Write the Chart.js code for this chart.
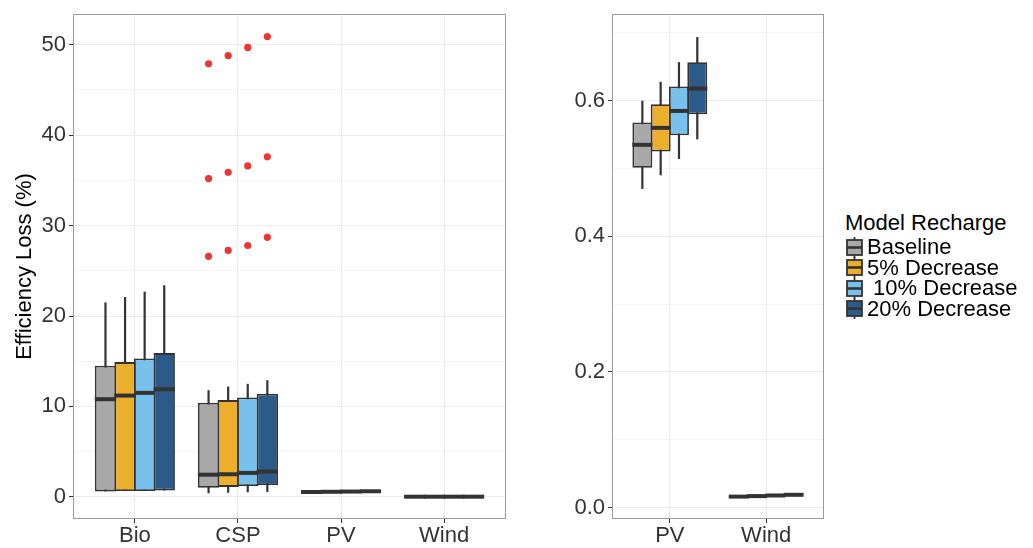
<!DOCTYPE html>
<html>
<head>
<meta charset="utf-8">
<script src="https://cdn.jsdelivr.net/npm/chart.js@4.4.1/dist/chart.umd.min.js"></script>
<style>
  body { margin: 0; background: #fff; }
  #wrap { position: relative; width: 1033px; height: 548px; font-family: 'Liberation Sans', Arial, sans-serif; }
  #left { position: absolute; left: 0; top: 0; }
  #right { position: absolute; left: 540px; top: 0; }
  #legend { position: absolute; left: 845px; top: 211px; font-size: 22px; color: #000; }
  #legend .title { line-height: 24px; }
  #legend ul { list-style: none; margin: 2px 0 0; padding: 0; }
  #legend li { display: flex; align-items: center; height: 20.5px; }
  #legend li span { white-space: pre; }
  #legend canvas { margin-right: 3px; }
</style>
</head>
<body>
<div id="wrap">
  <canvas id="left" width="512" height="548"></canvas>
  <canvas id="right" width="290" height="548"></canvas>
  <div id="legend"></div>
</div>
<script>
'use strict';

Chart.defaults.font.family = "'Liberation Sans', Arial, sans-serif";
Chart.defaults.font.size = 22;
Chart.defaults.color = '#333';

const categories = ['Bio', 'CSP', 'PV', 'Wind'];
const seriesNames = ['Baseline', '5% Decrease', ' 10% Decrease', '20% Decrease'];
const legendTitle = 'Model Recharge';

// rows = series, columns = categories (Bio, CSP, PV, Wind)
const whiskerLow = [
  [0.6, 0.4, 0.470, 0.0150],
  [0.65, 0.45, 0.490, 0.0158],
  [0.65, 0.5, 0.514, 0.0167],
  [0.7, 0.55, 0.543, 0.0176]
];
const lowerQuartile = [
  [0.6, 1.0, 0.501, 0.0155],
  [0.65, 1.1, 0.525, 0.0163],
  [0.65, 1.2, 0.549, 0.0172],
  [0.7, 1.3, 0.580, 0.0181]
];
const median = [
  [10.8, 2.45, 0.535, 0.0160],
  [11.2, 2.5, 0.560, 0.0168],
  [11.5, 2.65, 0.585, 0.0177],
  [11.9, 2.8, 0.618, 0.0187]
];
const upperQuartile = [
  [14.5, 10.4, 0.568, 0.0166],
  [14.9, 10.7, 0.595, 0.0174],
  [15.3, 11.0, 0.621, 0.0183],
  [15.9, 11.4, 0.657, 0.0193]
];
const whiskerHigh = [
  [21.5, 11.8, 0.600, 0.0172],
  [22.1, 12.2, 0.628, 0.0180],
  [22.7, 12.5, 0.657, 0.0190],
  [23.4, 12.9, 0.694, 0.0200]
];
// CSP outliers per series
const cspOutliers = [
  [26.6, 35.2, 47.9],
  [27.25, 35.9, 48.8],
  [27.8, 36.6, 49.7],
  [28.7, 37.6, 50.9]
];

const leftYTicks = [0, 10, 20, 30, 40, 50];
const rightYTicks = [0, 0.2, 0.4, 0.6];

const seriesColors = ['#A8A8A8', '#EBAF2D', '#77C1EC', '#2D5B89'];
const ink = '#333333';

// major ticks plus a minor gridline halfway between them
function gridValues(major, max) {
  const step = major[1] - major[0];
  const vals = [];
  major.forEach(v => {
    vals.push({ value: v, minor: false });
    const half = +(v + step / 2).toFixed(6);
    if (half <= max) vals.push({ value: half, minor: true });
  });
  return vals;
}

function boxDatasets(catIndexes) {
  return seriesNames.map((name, s) => ({
    label: name,
    backgroundColor: seriesColors[s],
    borderColor: ink,
    borderWidth: 1.8,
    borderSkipped: false,
    categoryPercentage: 0.76,
    barPercentage: 1.09, // neighbouring boxes share their outline, like ggplot
    data: catIndexes.map((c, k) => ({ x: k + 1, y: [lowerQuartile[s][c], upperQuartile[s][c]] })),
    whiskers: catIndexes.map(c => [whiskerLow[s][c], whiskerHigh[s][c]]),
    medians: catIndexes.map(c => median[s][c]),
    outliers: catIndexes.map(c => categories[c] === 'CSP' ? cspOutliers[s] : [])
  }));
}

// whiskers behind the boxes, medians + outliers on top, panel border last
const boxParts = {
  id: 'boxParts',
  beforeDatasetsDraw(chart) {
    const ctx = chart.ctx;
    const y = chart.scales.y;
    ctx.save();
    ctx.strokeStyle = ink;
    ctx.lineWidth = 2.2;
    chart.data.datasets.forEach((ds, i) => {
      chart.getDatasetMeta(i).data.forEach((bar, j) => {
        ctx.beginPath();
        ctx.moveTo(bar.x, y.getPixelForValue(ds.whiskers[j][0]));
        ctx.lineTo(bar.x, y.getPixelForValue(ds.whiskers[j][1]));
        ctx.stroke();
      });
    });
    ctx.restore();
  },
  afterDatasetsDraw(chart) {
    const ctx = chart.ctx;
    const y = chart.scales.y;
    ctx.save();
    chart.data.datasets.forEach((ds, i) => {
      chart.getDatasetMeta(i).data.forEach((bar, j) => {
        const ym = y.getPixelForValue(ds.medians[j]);
        ctx.strokeStyle = ink;
        ctx.lineWidth = 4;
        ctx.beginPath();
        ctx.moveTo(bar.x - bar.width / 2, ym);
        ctx.lineTo(bar.x + bar.width / 2, ym);
        ctx.stroke();
        ctx.fillStyle = '#EE3535';
        ds.outliers[j].forEach(v => {
          ctx.beginPath();
          ctx.arc(bar.x, y.getPixelForValue(v), 3.6, 0, Math.PI * 2);
          ctx.fill();
        });
      });
    });
    ctx.restore();
  },
  afterDraw(chart) {
    const { ctx, chartArea: a } = chart;
    ctx.save();
    ctx.strokeStyle = '#9a9a9a';
    ctx.lineWidth = 1;
    ctx.strokeRect(a.left + 0.5, a.top + 0.5, a.width - 1, a.height - 1);
    ctx.restore();
  }
};

function keyGlyph(color) {
  const c = document.createElement('canvas');
  c.width = 19;
  c.height = 21;
  const g = c.getContext('2d');
  g.strokeStyle = ink;
  g.lineWidth = 1.8;
  g.beginPath();
  g.moveTo(9.5, 0);
  g.lineTo(9.5, 21);
  g.stroke();
  g.fillStyle = color;
  g.fillRect(2, 3, 15, 15);
  g.strokeRect(2, 3, 15, 15);
  g.lineWidth = 2.6;
  g.beginPath();
  g.moveTo(2, 10.5);
  g.lineTo(17, 10.5);
  g.stroke();
  return c;
}

const htmlLegend = {
  id: 'htmlLegend',
  afterUpdate(chart) {
    const box = document.getElementById('legend');
    box.innerHTML = '';
    const title = document.createElement('div');
    title.className = 'title';
    title.textContent = legendTitle;
    box.appendChild(title);
    const list = document.createElement('ul');
    chart.options.plugins.legend.labels.generateLabels(chart).forEach(item => {
      const li = document.createElement('li');
      li.appendChild(keyGlyph(item.fillStyle));
      const text = document.createElement('span');
      text.textContent = item.text;
      li.appendChild(text);
      list.appendChild(li);
    });
    box.appendChild(list);
  }
};

function makeChart(canvasId, catIndexes, yRange, yMajor, yFormat, yAxisWidth, yTitle, extraPlugins) {
  const yGrid = gridValues(yMajor, yRange[1]);
  return new Chart(document.getElementById(canvasId), {
    type: 'bar',
    data: { datasets: boxDatasets(catIndexes) },
    plugins: [boxParts].concat(extraPlugins),
    options: {
      responsive: false,
      animation: false,
      layout: { padding: { top: 11, right: 6, left: 0, bottom: 0 } },
      plugins: { legend: { display: false }, tooltip: { enabled: false } },
      scales: {
        x: {
          type: 'linear',
          min: 0.4,
          max: catIndexes.length + 0.6,
          offset: false,
          grid: { offset: false, color: '#ebebeb', tickColor: ink, tickLength: 4 },
          border: { display: false },
          afterBuildTicks: s => { s.ticks = catIndexes.map((c, k) => ({ value: k + 1 })); },
          afterFit: s => { s.height = 29; },
          ticks: {
            autoSkip: false,
            maxRotation: 0,
            padding: 2,
            color: '#333',
            font: { size: 22, lineHeight: 1 },
            callback: (v, i) => categories[catIndexes[i]]
          }
        },
        y: {
          min: yRange[0],
          max: yRange[1],
          grid: {
            color: c => (c.tick && c.tick.minor ? '#f4f4f4' : '#ebebeb'),
            tickColor: c => (c.tick && c.tick.minor ? 'rgba(0,0,0,0)' : ink),
            tickLength: 4
          },
          border: { display: false },
          afterBuildTicks: s => { s.ticks = yGrid.map(t => ({ value: t.value, minor: t.minor })); },
          afterFit: s => { s.width = yAxisWidth; },
          ticks: {
            autoSkip: false,
            padding: 3,
            color: '#333',
            font: { size: 22, lineHeight: 1 },
            callback: (v, i, ticks) => (ticks[i].minor ? '' : yFormat(v))
          },
          title: {
            display: !!yTitle,
            text: yTitle,
            color: '#000',
            font: { size: 22, lineHeight: 1.2 },
            padding: { top: 12, bottom: 0 }
          }
        }
      }
    }
  });
}

makeChart('left', [0, 1, 2, 3], [-2.45, 53.4], leftYTicks, v => String(v), 73, 'Efficiency Loss (%)', []);
makeChart('right', [2, 3], [-0.017, 0.728], rightYTicks, v => v.toFixed(1), 72, '', [htmlLegend]);
</script>
</body>
</html>
